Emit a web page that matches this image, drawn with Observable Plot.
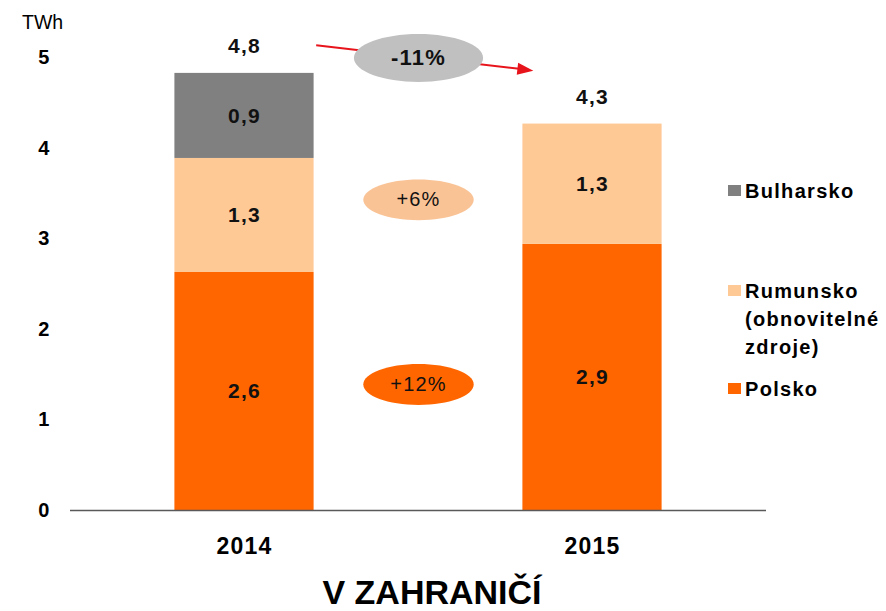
<!DOCTYPE html>
<html>
<head>
<meta charset="utf-8">
<script src="https://cdn.jsdelivr.net/npm/d3@7"></script>
<script src="https://cdn.jsdelivr.net/npm/@observablehq/plot@0.6"></script>
<style>
  body { margin: 0; background: #fff; font-family: "Liberation Sans", Arial, sans-serif; }
  #wrap { position: relative; width: 886px; height: 611px; overflow: hidden; }
  #chart svg text { letter-spacing: 1.2px; }
  #title { width: 864px; text-align: center; font-weight: bold; font-size: 34px; line-height: 36px; color: #000; }
  #unit { position: absolute; left: 22px; top: 12px; font-size: 19.5px; line-height: 20px; color: #000; }
  .lg { position: absolute; left: 745px; font-weight: bold; font-size: 20px; line-height: 28px; letter-spacing: 1.3px; color: #000; }
  .sw { position: absolute; left: 728px; width: 13px; height: 11px; }
</style>
</head>
<body>
<div id="wrap">
  <div id="chart"></div>
  <div id="title"></div>
  <div id="unit"></div>
  <div id="legend"></div>
</div>
<script>
// ---- data ----
const years = ["2014", "2015"];
const series = ["Polsko", "Rumunsko (obnovitelné zdroje)", "Bulharsko"];
const polsko = [2.63, 2.94];
const rumunsko = [1.26, 1.33];
const bulharsko = [0.94, 0];
const changeLabels = ["+12%", "+6%", "-11%"];
const yTicks = [0, 1, 2, 3, 4, 5];
const unitLabel = "TWh";
const titleText = "V ZAHRANIČÍ";
const legendLines = [["Bulharsko"], ["Rumunsko", "(obnovitelné", "zdroje)"], ["Polsko"]];

// ---- styles ----
const colors = ["#ff6600", "#ffc996", "#808080"];
const ellipseColors = ["#ff6600", "#f9c396", "#c0c0c0"];
const arrowRed = "#e8141b";

const values = [polsko, rumunsko, bulharsko];
const fmt = v => d3.format(".1f")(v).replace(".", ",");

const segs = [];
years.forEach((yr, i) => {
  let base = 0;
  values.forEach((arr, s) => {
    const v = arr[i];
    if (v > 0) segs.push({i, s, name: series[s], y1: base, y2: base + v, mid: base + v / 2, label: fmt(v)});
    base += v;
  });
});
const totals = years.map((yr, i) => ({i, total: d3.sum(values, a => a[i])}));
const midX = (0 + years.length - 1) / 2;
const changes = [
  {s: 0, label: changeLabels[0], y: d3.mean(segs.filter(d => d.s === 0), d => d.mid)},
  {s: 1, label: changeLabels[1], y: d3.mean(segs.filter(d => d.s === 1), d => d.mid)},
  {s: 2, label: changeLabels[2], y: d3.max(yTicks)}
];

// ellipse symbol (aspect ratio ~2.7)
const K = 2.7;
const ellipse = {
  draw(ctx, size) {
    const r = Math.sqrt(size / Math.PI);
    const a = r * Math.sqrt(K), b = r / Math.sqrt(K), c = 0.5523;
    ctx.moveTo(a, 0);
    ctx.bezierCurveTo(a, b * c, a * c, b, 0, b);
    ctx.bezierCurveTo(-a * c, b, -a, b * c, -a, 0);
    ctx.bezierCurveTo(-a, -b * c, -a * c, -b, 0, -b);
    ctx.bezierCurveTo(a * c, -b, a, -b * c, a, 0);
    ctx.closePath();
  }
};
const arrowHead = {
  draw(ctx, size) {
    const r = Math.sqrt(size / Math.PI);
    ctx.moveTo(0, 0);
    ctx.lineTo(-2 * r, -0.75 * r);
    ctx.lineTo(-2 * r, 0.75 * r);
    ctx.closePath();
  }
};

const font = "Liberation Sans, Arial, sans-serif";

const chart = Plot.plot({
  width: 886,
  height: 574,
  marginLeft: 70,
  marginRight: 120,
  marginTop: 57.5,
  marginBottom: 64,
  style: {fontFamily: font, color: "#000", background: "#fff", overflow: "visible"},
  x: {domain: [-0.5, years.length - 0.5]},
  y: {domain: [0, d3.max(yTicks)]},
  color: {domain: series, range: colors},
  marks: [
    Plot.axisY({ticks: yTicks, tickFormat: d => String(d), tickSize: 0, tickPadding: 20, fontSize: 20, fontWeight: "bold", label: null}),
    Plot.axisX({ticks: years.map((d, i) => i), tickFormat: i => years[i], tickSize: 0, tickPadding: 27, fontSize: 23, fontWeight: "bold", label: null}),
    Plot.rectY(segs, {x1: d => d.i - 0.2, x2: d => d.i + 0.2, y1: "y1", y2: "y2", fill: "name"}),
    Plot.ruleY([0], {stroke: "#595959", strokeWidth: 1.5}),
    Plot.text(segs, {x: "i", y: "mid", text: "label", fontSize: 21, fontWeight: "bold", fill: "#111"}),
    Plot.text(totals, {x: "i", y: "total", text: d => fmt(d.total), dy: -27, fontSize: 21, fontWeight: "bold", fill: "#111"}),
    // arrow for total change
    Plot.link([0], {x1: 0.206, y1: 5.14, x2: 0.815, y2: 4.87, stroke: arrowRed, strokeWidth: 2}),
    Plot.dot([0], {x: 0.83, y: 4.86, symbol: arrowHead, r: 8, fill: arrowRed, stroke: null, rotate: 6.6}),
    // change ellipses
    Plot.dot(changes.filter(d => d.s < 2), {x: () => midX, y: "y", r: 33.6, symbol: ellipse, fill: d => ellipseColors[d.s], stroke: null}),
    Plot.dot(changes.filter(d => d.s === 2), {x: () => midX, y: "y", r: 39.3, symbol: ellipse, fill: d => ellipseColors[d.s], stroke: null}),
    Plot.text(changes.filter(d => d.s < 2), {x: () => midX, y: "y", text: "label", fontSize: 20, fill: "#111"}),
    Plot.text(changes.filter(d => d.s === 2), {x: () => midX, y: "y", text: "label", fontSize: 22, fontWeight: "bold", fill: "#111"})
  ]
});
document.getElementById("chart").appendChild(chart);

document.getElementById("title").textContent = titleText;
document.getElementById("unit").textContent = unitLabel;

// legend (top to bottom: Bulharsko, Rumunsko, Polsko)
const legend = document.getElementById("legend");
const legendTops = [176.5, 276.5, 374.5];
const legendColorIdx = [2, 1, 0];
legendLines.forEach((lines, k) => {
  const sw = document.createElement("div");
  sw.className = "sw";
  sw.style.top = (legendTops[k] + 8.5) + "px";
  sw.style.background = colors[legendColorIdx[k]];
  legend.appendChild(sw);
  const t = document.createElement("div");
  t.className = "lg";
  t.style.top = legendTops[k] + "px";
  t.innerHTML = lines.map(s => s.replace(/&/g, "&amp;")).join("<br>");
  legend.appendChild(t);
});
</script>
</body>
</html>
